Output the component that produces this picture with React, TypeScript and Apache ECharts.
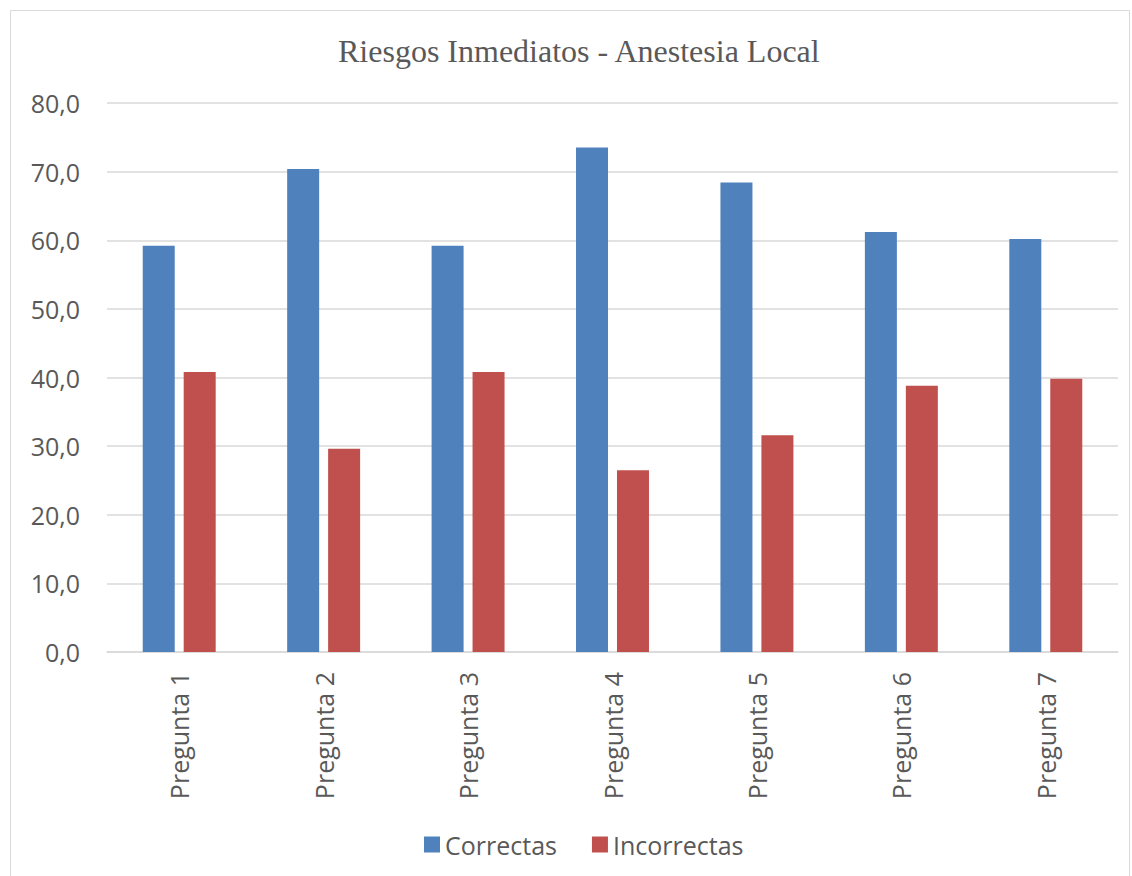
import React, { useEffect, useRef } from "react";
import * as echarts from "echarts";

const categories = ["Pregunta 1", "Pregunta 2", "Pregunta 3", "Pregunta 4", "Pregunta 5", "Pregunta 6", "Pregunta 7"];
const correctas = [59.2, 70.4, 59.2, 73.5, 68.4, 61.2, 60.2];
const incorrectas = [40.8, 29.6, 40.8, 26.5, 31.6, 38.8, 39.8];
const titleText = "Riesgos Inmediatos - Anestesia Local";

export default function App() {
  const ref = useRef<HTMLDivElement>(null);
  useEffect(() => {
    if (!ref.current) return;
    const chart = echarts.init(ref.current, null, { renderer: "svg" });
    const labelFont = "'Open Sans', 'Noto Sans', sans-serif";
    chart.setOption({
      animation: false,
      backgroundColor: "#ffffff",
      title: {
        text: titleText,
        left: 333,
        top: 30,
        textStyle: { fontFamily: "'Liberation Serif', 'Times New Roman', serif", fontSize: 32, fontWeight: "normal", color: "#595959" },
      },
      graphic: [
        {
          type: "rect",
          shape: { x: 10.5, y: 10.5, width: 1119, height: 870 },
          style: { fill: "none", stroke: "#d9d9d9", lineWidth: 1 },
          silent: true,
        },
      ],
      legend: {
        top: 827,
        left: 419,
        itemWidth: 16,
        itemHeight: 16,
        itemGap: 35,
        icon: "rect",
        textStyle: { fontFamily: labelFont, fontSize: 25, color: "#595959" },
        data: ["Correctas", "Incorrectas"],
      },
      grid: { left: 107, right: 14, top: 103, bottom: 224, containLabel: false },
      xAxis: {
        type: "category",
        data: categories,
        axisLine: { show: true, lineStyle: { color: "#d9d9d9", width: 1.5 } },
        axisTick: { show: false },
        axisLabel: {
          rotate: 90,
          margin: 20,
          fontFamily: labelFont,
          fontSize: 25,
          color: "#595959",
          interval: 0,
        },
      },
      yAxis: {
        type: "value",
        min: 0,
        max: 80,
        interval: 10,
        axisLine: { show: false },
        axisTick: { show: false },
        splitLine: { lineStyle: { color: "#d9d9d9", width: 1.5 } },
        axisLabel: {
          margin: 27,
          fontFamily: labelFont,
          fontSize: 25,
          color: "#595959",
          formatter: (v: number) => v.toFixed(1).replace(".", ","),
        },
      },
      series: [
        {
          name: "Correctas",
          type: "bar",
          data: correctas,
          barWidth: 32,
          barGap: "28%",
          itemStyle: { color: "#4f81bd" },
        },
        {
          name: "Incorrectas",
          type: "bar",
          data: incorrectas,
          barWidth: 32,
          barGap: "28%",
          itemStyle: { color: "#c0504d" },
        },
      ],
    });
    return () => chart.dispose();
  }, []);
  return (
    <div
      ref={ref}
      style={{ position: "absolute", left: 0, top: 0, width: 1132, height: 876 }}
    />
  );
}
